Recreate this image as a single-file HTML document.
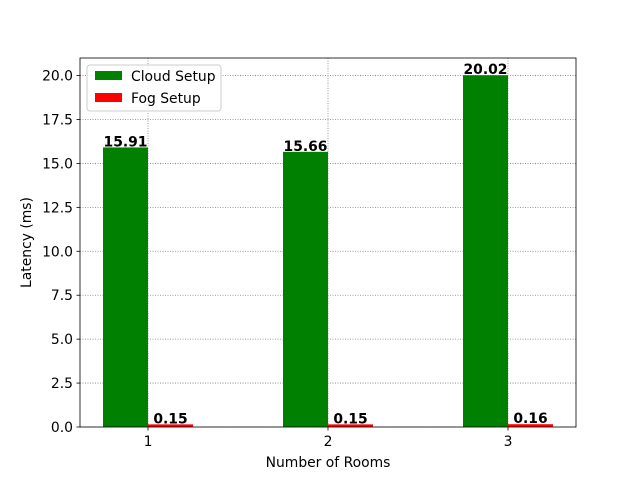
<!DOCTYPE html>
<html><head><meta charset="utf-8"><style>
body{margin:0;background:#fff;}
svg{font-family:"DejaVu Sans","Liberation Sans",sans-serif;}
</style></head><body>
<svg id="chart" width="640" height="480">
<rect x="0" y="0" width="640" height="480" fill="#fff"/>
</svg>
<script>
const categories = [1, 2, 3];
const cloudValues = [15.91, 15.66, 20.02];
const fogValues = [0.15, 0.15, 0.16];
const yTicks = [0, 2.5, 5, 7.5, 10, 12.5, 15, 17.5, 20];
const yTickLabels = ["0.0","2.5","5.0","7.5","10.0","12.5","15.0","17.5","20.0"];

const svg = document.getElementById('chart');
const NS = 'http://www.w3.org/2000/svg';
const L = 80, R = 576, T = 58, B = 427;
const xMin = 0.6222, xMax = 3.3778, yMin = 0, yMax = 21;
const xs = v => L + (v - xMin) / (xMax - xMin) * (R - L);
const ys = v => B - (v - yMin) / (yMax - yMin) * (B - T);
const barW = 0.25;
const FS = 13.9;

function mk(tag, attrs, parent) {
  const e = document.createElementNS(NS, tag);
  for (const k in attrs) e.setAttribute(k, attrs[k]);
  (parent || svg).appendChild(e);
  return e;
}

yTicks.forEach((t, i) => {
  const y = ys(t);
  const g = mk('line', {x1: L, x2: R, y1: y, y2: y, stroke: '#808080', 'stroke-width': 0.8, 'stroke-dasharray': '1,1.5'});
  
  
  const tk = mk('line', {x1: L - 3.5, x2: L, y1: y, y2: y, stroke: '#000', 'stroke-width': 0.8});
  
  
  const lb = mk('text', {x: L - 7, y: y + 5, 'text-anchor': 'end', 'font-size': FS});
  lb.textContent = yTickLabels[i];
  
  
});
categories.forEach(c => {
  const x = xs(c);
  const g = mk('line', {x1: x, x2: x, y1: T, y2: B, stroke: '#808080', 'stroke-width': 0.8, 'stroke-dasharray': '1,1.5'});
  
  
  const tk = mk('line', {x1: x, x2: x, y1: B, y2: B + 3.5, stroke: '#000', 'stroke-width': 0.8});
  
  
  const lb = mk('text', {x: x, y: B + 19, 'text-anchor': 'middle', 'font-size': FS});
  lb.textContent = c;
  
  
});

function bars(vals, offset, color, name) {
  vals.forEach((v, i) => {
    const x0 = xs(categories[i] + offset), x1 = xs(categories[i] + offset + barW);
    const r = mk('rect', {x: x0, y: ys(v), width: x1 - x0, height: ys(0) - ys(v), fill: color});
    
    
    const t = mk('text', {x: (x0 + x1) / 2, y: ys(v) - 1, 'text-anchor': 'middle', 'font-size': FS, 'font-weight': 'bold'});
    t.textContent = v.toFixed(2);
    
    
  });
}
bars(cloudValues, -barW, 'green', 'cloud');
bars(fogValues, 0, 'red', 'fog');

const fr = mk('rect', {x: L, y: T, width: R - L, height: B - T, fill: 'none', stroke: '#000', 'stroke-width': 0.8});



const xt = mk('text', {x: (L + R) / 2, y: 467, 'text-anchor': 'middle', 'font-size': FS});
xt.textContent = 'Number of Rooms';


const ycx = 31, ycy = (T + B) / 2;
const yt = mk('text', {x: ycx, y: ycy, 'text-anchor': 'middle', 'font-size': FS, transform: 'rotate(-90 ' + ycx + ' ' + ycy + ')'});
yt.textContent = 'Latency (ms)';



const lg = mk('g', {});


mk('rect', {x: 87, y: 65, width: 134, height: 46, rx: 3, fill: '#fff', 'fill-opacity': 0.8, stroke: '#ccc', 'stroke-width': 1}, lg);
[['Cloud Setup', 'green'], ['Fog Setup', 'red']].forEach((e, i) => {
  const y = 71 + i * 22;
  const g = mk('g', {}, lg);
  
  
  mk('rect', {x: 95, y: y, width: 27, height: 9, fill: e[1]}, g);
  const t = mk('text', {x: 131, y: y + 10, 'font-size': FS}, g);
  t.textContent = e[0];
});
</script>
</body></html>
